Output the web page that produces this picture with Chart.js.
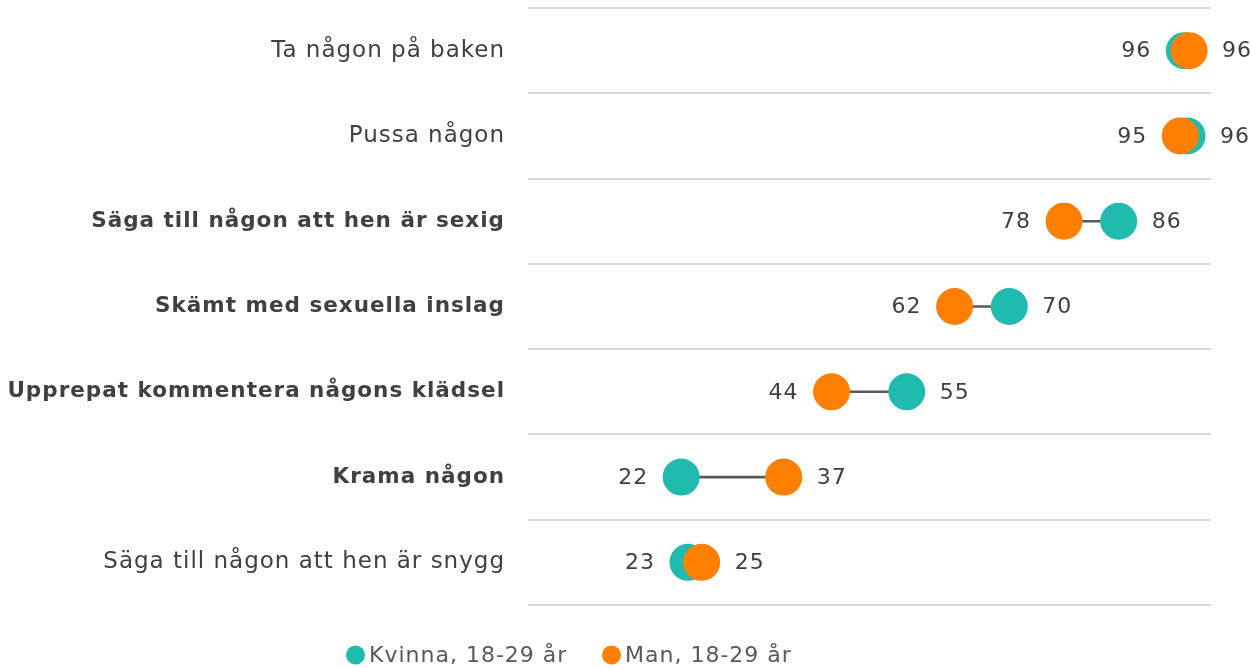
<!DOCTYPE html>
<html>
<head>
<meta charset="utf-8">
<script src="https://cdn.jsdelivr.net/npm/chart.js@4"></script>
<style>
    html, body { margin: 0; padding: 0; background: #ffffff; }
    #wrap { width: 1251px; height: 668px; position: relative; }
</style>
</head>
<body>
<div id="wrap"><canvas id="chart"></canvas></div>
<script>
const categories = [
    'Ta någon på baken',
    'Pussa någon',
    'Säga till någon att hen är sexig',
    'Skämt med sexuella inslag',
    'Upprepat kommentera någons klädsel',
    'Krama någon',
    'Säga till någon att hen är snygg',
];
const boldRows = [false, false, true, true, true, true, false];
const kvinna = [95.6, 96.0, 86, 70, 55, 22, 23];
const man = [96.3, 95.0, 78, 62, 44, 37, 25];
const seriesNames = ['Kvinna, 18-29 år', 'Man, 18-29 år'];

const TEAL = '#20BBAE';
const ORANGE = '#FF7F00';
const FONT = 'DejaVu Sans';
const SPACING = '1px';

// wider letter spacing to get closer to the original geometric typeface
const spacing = {
    id: 'spacing',
    beforeDraw(chart) { chart.ctx.letterSpacing = SPACING; },
    afterDraw(chart) { chart.ctx.letterSpacing = '0px'; },
};

const valueLabels = {
    id: 'valueLabels',
    afterDatasetsDraw(chart) {
        const { ctx, scales: { x, y } } = chart;
        ctx.save();
        ctx.font = `22px "${FONT}"`;
        ctx.fillStyle = '#404040';
        ctx.textBaseline = 'middle';
        categories.forEach((_, i) => {
            const yp = y.getPixelForValue(i);
            const lo = Math.min(kvinna[i], man[i]);
            const hi = Math.max(kvinna[i], man[i]);
            ctx.textAlign = 'right';
            ctx.fillText(String(Math.round(lo)), x.getPixelForValue(lo) - 33, yp + 1);
            ctx.textAlign = 'left';
            ctx.fillText(String(Math.round(hi)), x.getPixelForValue(hi) + 33, yp + 1);
        });
        ctx.restore();
    },
};

const bottomLegend = {
    id: 'bottomLegend',
    afterDraw(chart) {
        const { ctx } = chart;
        const colors = [TEAL, ORANGE];
        const starts = [346, 602];
        ctx.save();
        ctx.letterSpacing = SPACING;
        ctx.font = `22px "${FONT}"`;
        ctx.textBaseline = 'middle';
        ctx.textAlign = 'left';
        const yPos = 655;
        seriesNames.forEach((name, i) => {
            ctx.fillStyle = colors[i];
            ctx.beginPath();
            ctx.arc(starts[i] + 9.5, yPos, 9.5, 0, Math.PI * 2);
            ctx.fill();
            ctx.fillStyle = '#595959';
            ctx.fillText(name, starts[i] + 23, yPos + 1);
        });
        ctx.restore();
    },
};

new Chart(document.getElementById('chart'), {
    data: {
        labels: categories,
        datasets: [
            {
                type: 'bar',
                label: 'span',
                data: categories.map((_, i) => [Math.min(kvinna[i], man[i]), Math.max(kvinna[i], man[i])]),
                backgroundColor: '#595959',
                barThickness: 2,
                order: 3,
            },
            {
                type: 'line',
                label: seriesNames[0],
                data: kvinna,
                showLine: false,
                pointRadius: 18.5,
                pointHoverRadius: 18.5,
                pointBorderWidth: 0,
                pointBackgroundColor: TEAL,
                borderColor: TEAL,
                clip: false,
                order: 2,
            },
            {
                type: 'line',
                label: seriesNames[1],
                data: man,
                showLine: false,
                pointRadius: 18.5,
                pointHoverRadius: 18.5,
                pointBorderWidth: 0,
                pointBackgroundColor: ORANGE,
                borderColor: ORANGE,
                clip: false,
                order: 1,
            },
        ],
    },
    options: {
        indexAxis: 'y',
        responsive: true,
        maintainAspectRatio: false,
        animation: false,
        layout: {
            autoPadding: false,
            padding: { left: 0, top: 8, right: 40, bottom: 63 },
        },
        plugins: {
            legend: { display: false },
            tooltip: { enabled: false },
        },
        scales: {
            x: {
                type: 'linear',
                min: -0.4,
                max: 99.5,
                display: false,
            },
            y: {
                type: 'category',
                offset: true,
                afterFit: (scale) => {
                    scale.width = 528;
                    scale.paddingTop = 0;
                    scale.paddingBottom = 0;
                },
                border: { display: false },
                grid: {
                    offset: true,
                    color: '#D9D9D9',
                    lineWidth: 2,
                    drawTicks: false,
                },
                ticks: {
                    padding: 23,
                    color: '#404040',
                    font: (ctx) => (boldRows[ctx.index]
                        ? { family: FONT, size: 21.5, weight: 'bold' }
                        : { family: FONT, size: 23, weight: 'normal' }),
                },
            },
        },
    },
    plugins: [spacing, valueLabels, bottomLegend],
});
</script>
</body>
</html>
